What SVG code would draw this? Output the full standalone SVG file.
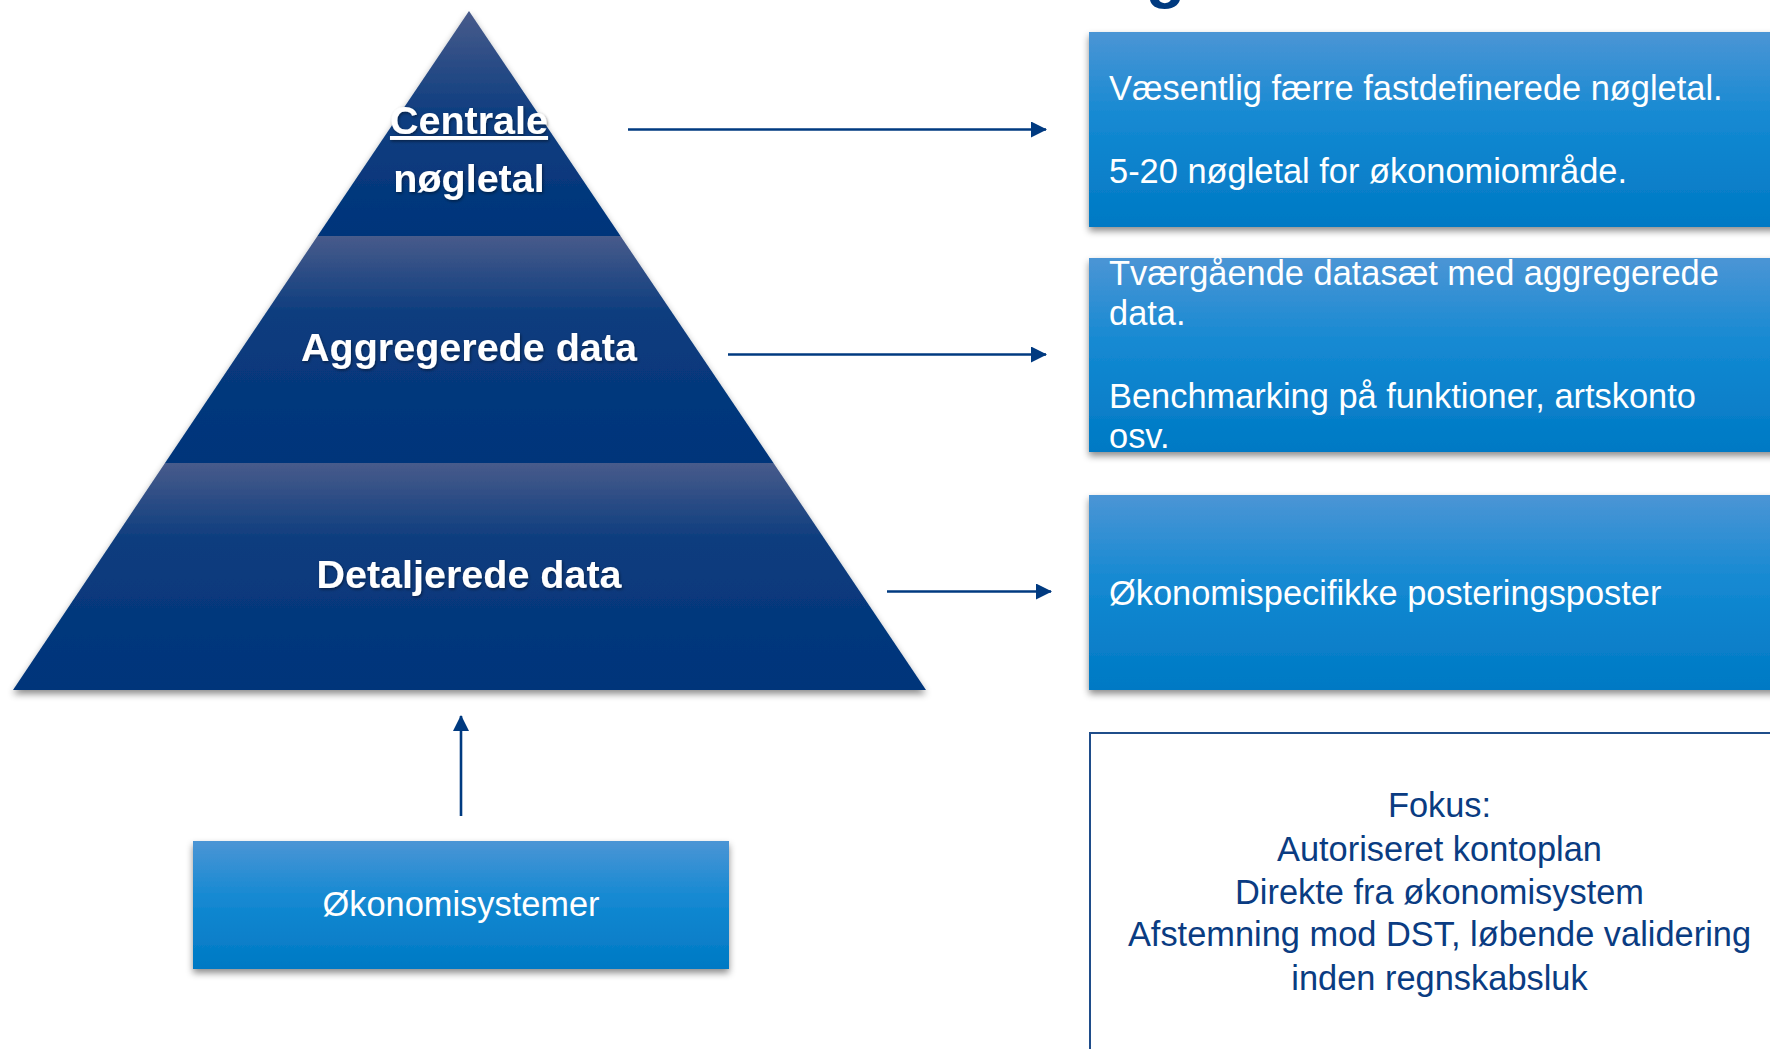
<svg xmlns="http://www.w3.org/2000/svg" width="1770" height="1049" viewBox="0 0 1770 1049">
  <defs>
    <linearGradient id="gBox" x1="0" y1="0" x2="0" y2="1">
      <stop offset="0" stop-color="#4b95d5"/>
      <stop offset="0.45" stop-color="#1489d2"/>
      <stop offset="1" stop-color="#0079c4"/>
    </linearGradient>
    <linearGradient id="gBand" x1="0" y1="0" x2="0" y2="1">
      <stop offset="0" stop-color="#485b8b"/>
      <stop offset="0.35" stop-color="#0b3c7e"/>
      <stop offset="1" stop-color="#00347a"/>
    </linearGradient>
    <linearGradient id="gTop" x1="0" y1="0" x2="0" y2="1">
      <stop offset="0" stop-color="#485b8b"/>
      <stop offset="0.45" stop-color="#0f3e80"/>
      <stop offset="1" stop-color="#00347a"/>
    </linearGradient>
    <filter id="shadow" x="-5%" y="-10%" width="110%" height="130%">
      <feDropShadow dx="0" dy="4" stdDeviation="3.5" flood-color="#000" flood-opacity="0.45"/>
    </filter>
    <filter id="tshadow" x="-10%" y="-20%" width="120%" height="150%">
      <feDropShadow dx="1" dy="1.5" stdDeviation="1.6" flood-color="#000" flood-opacity="0.45"/>
    </filter>
    <marker id="arrow" viewBox="0 0 16 16" refX="15" refY="8" markerWidth="16" markerHeight="16" markerUnits="userSpaceOnUse" orient="auto">
      <path d="M0,0 L16,8 L0,16 Z" fill="#003a80"/>
    </marker>
  </defs>
  <style>
    .pyr { font-family: "Liberation Sans", Arial, sans-serif; font-weight: bold; font-size: 39.5px; fill: #ffffff; text-anchor: middle; }
    .bt { font-family: "Liberation Sans", Arial, sans-serif; font-size: 34.4px; fill: #ffffff; }
    .ft { font-family: "Liberation Sans", Arial, sans-serif; font-size: 34.4px; fill: #0a3c82; text-anchor: middle; }
    .conn { stroke: #003a80; stroke-width: 2.6; fill: none; }
  </style>

  <!-- partial title glyph cut at top -->
  <text x="1146" y="-4" font-family="Liberation Sans, Arial, sans-serif" font-weight="bold" font-size="64" fill="#003a80">g</text>

  <!-- Pyramid -->
  <g id="pyramid" filter="url(#shadow)">
    <g id="node-centrale">
      <polygon points="469,11 620.5,236 317.5,236" fill="url(#gTop)"/>
    </g>
    <g id="node-aggregerede">
      <polygon points="317.5,236 620.5,236 773.5,463 165,463" fill="url(#gBand)"/>
    </g>
    <g id="node-detaljerede">
      <polygon points="165,463 773.5,463 926,690 13,690" fill="url(#gBand)"/>
    </g>
  </g>
  <g id="pyramid-labels" filter="url(#tshadow)">
    <text class="pyr" x="469" y="134" text-decoration="underline">Centrale</text>
    <text class="pyr" x="469" y="192">nøgletal</text>
    <text class="pyr" x="469" y="361">Aggregerede data</text>
    <text class="pyr" x="469" y="588">Detaljerede data</text>
  </g>

  <!-- Right boxes -->
  <g id="node-box1">
    <rect x="1089" y="32" width="720" height="195" fill="url(#gBox)" filter="url(#shadow)"/>
    <text class="bt" x="1109" y="100">Væsentlig færre fastdefinerede nøgletal.</text>
    <text class="bt" x="1109" y="183">5-20 nøgletal for økonomiområde.</text>
  </g>
  <g id="node-box2">
    <rect x="1089" y="258" width="720" height="194" fill="url(#gBox)" filter="url(#shadow)"/>
    <text class="bt" x="1109" y="285">Tværgående datasæt med aggregerede</text>
    <text class="bt" x="1109" y="325">data.</text>
    <text class="bt" x="1109" y="408">Benchmarking på funktioner, artskonto</text>
    <text class="bt" x="1109" y="448">osv.</text>
  </g>
  <g id="node-box3">
    <rect x="1089" y="495" width="720" height="195" fill="url(#gBox)" filter="url(#shadow)"/>
    <text class="bt" x="1109" y="605">Økonomispecifikke posteringsposter</text>
  </g>
  <g id="node-fokus">
    <rect x="1090" y="733" width="720" height="360" fill="#ffffff" stroke="#1f4d8a" stroke-width="2"/>
    <text class="ft" x="1439.5" y="817">Fokus:</text>
    <text class="ft" x="1439.5" y="861">Autoriseret kontoplan</text>
    <text class="ft" x="1439.5" y="904">Direkte fra økonomisystem</text>
    <text class="ft" x="1439.5" y="946">Afstemning mod DST, løbende validering</text>
    <text class="ft" x="1439.5" y="990">inden regnskabsluk</text>
  </g>
  <g id="node-okonomisystemer">
    <rect x="193" y="841" width="536" height="128" fill="url(#gBox)" filter="url(#shadow)"/>
    <text class="bt" x="461" y="916" text-anchor="middle">Økonomisystemer</text>
  </g>

  <!-- Connectors -->
  <g id="connectors">
    <line class="conn" x1="628" y1="129.5" x2="1046" y2="129.5" marker-end="url(#arrow)"/>
    <line class="conn" x1="728" y1="354.5" x2="1046" y2="354.5" marker-end="url(#arrow)"/>
    <line class="conn" x1="887" y1="591.5" x2="1051" y2="591.5" marker-end="url(#arrow)"/>
    <line class="conn" x1="461" y1="816" x2="461" y2="716" marker-end="url(#arrow)"/>
  </g>
</svg>
